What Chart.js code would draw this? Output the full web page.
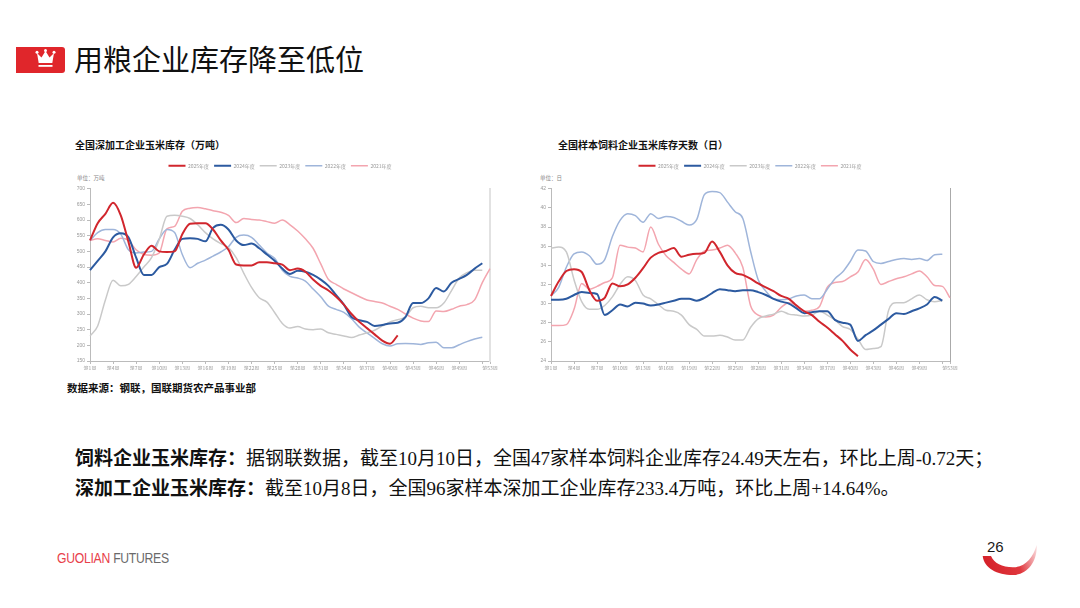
<!DOCTYPE html>
<html><head><meta charset="utf-8">
<script src="https://cdn.jsdelivr.net/npm/chart.js@4.4.1/dist/chart.umd.min.js"></script>
<style>
html,body{margin:0;padding:0;background:#fff;}
body{width:1080px;height:608px;position:relative;overflow:hidden;font-family:"Noto Sans CJK SC",sans-serif;}
.abs{position:absolute;white-space:nowrap;}
.ctitle{font-size:10px;font-weight:bold;color:#111;line-height:12px;}
.unit{font-size:5.5px;color:#888;line-height:7px;}
.body{font-size:19px;line-height:24px;color:#111;}
.body b{font-family:"Noto Sans CJK SC",sans-serif;font-weight:bold;}
.body span{font-family:"Liberation Serif","Noto Sans CJK SC",serif;font-weight:normal;}
</style></head><body>

<svg class="abs" style="left:16px;top:47px" width="50" height="26" viewBox="0 0 50 26">
  <path d="M0 0 H46 Q49 0 49 3 V23 Q49 26 46 26 H0 Z" fill="#e0262b"/>
  <path d="M21 6 L25.5 10.5 L29.5 4 L33.5 10.5 L38 6 L36.3 16 L22.7 16 Z" fill="#fff"/>
  <circle cx="21" cy="5.3" r="1.5" fill="#fff"/><circle cx="29.5" cy="3.5" r="1.5" fill="#fff"/><circle cx="38" cy="5.3" r="1.5" fill="#fff"/>
  <rect x="22.5" y="18" width="14" height="1.8" fill="#fff"/>
</svg>
<div class="abs" style="left:74px;top:40px;font-size:29px;line-height:36px;color:#111;">用粮企业库存降至低位</div>

<div class="abs ctitle" style="left:75px;top:139px;">全国深加工企业玉米库存（万吨）</div>
<div class="abs ctitle" style="left:558px;top:139px;">全国样本饲料企业玉米库存天数（日）</div>
<div class="abs unit" style="left:77px;top:175px;">单位：万吨</div>
<div class="abs unit" style="left:540px;top:175px;">单位：日</div>

<div class="abs" style="left:60px;top:155px;width:440px;height:215px;"><canvas id="c1" width="440" height="215"></canvas></div>
<div class="abs" style="left:540px;top:155px;width:420px;height:215px;"><canvas id="c2" width="420" height="215"></canvas></div>

<div class="abs" style="left:67px;top:381px;font-size:10.5px;font-weight:bold;color:#111;line-height:14px;">数据来源：钢联，国联期货农产品事业部</div>

<div class="abs body" style="left:75px;top:445px;"><b>饲料企业玉米库存：</b><span>据钢联数据，截至10月10日，全国47家样本饲料企业库存24.49天左右，环比上周-0.72天；</span></div>
<div class="abs body" style="left:75px;top:475px;"><b>深加工企业玉米库存：</b><span>截至10月8日，全国96家样本深加工企业库存233.4万吨，环比上周+14.64%。</span></div>

<div class="abs" style="left:57px;top:549px;font-size:14px;line-height:18px;font-family:'Liberation Sans',sans-serif;transform:scaleX(0.87);transform-origin:0 0;letter-spacing:-0.3px;"><span style="color:#e8414a">GUOLIAN</span><span style="color:#6a6a6a"> FUTURES</span></div>

<svg class="abs" style="left:980px;top:540px" width="62" height="40" viewBox="0 0 62 40">
  <defs><linearGradient id="g" x1="0" y1="0.2" x2="1" y2="0">
    <stop offset="0" stop-color="#d6232b"/><stop offset="0.55" stop-color="#e0383e"/><stop offset="0.85" stop-color="#f2a9ad"/><stop offset="1" stop-color="#fbe3e4"/>
  </linearGradient></defs>
  <path d="M2.7 16 L11 16 C14 23,22 27.3,33 27.3 C45 27.3,53 18,56.7 5 C57.5 22,47 35,33 35 C17 35,4 28,2.7 16 Z" fill="url(#g)"/>
</svg>
<div class="abs" style="left:987px;top:538px;font-size:15px;line-height:18px;color:#1a1a1a;font-family:'Liberation Sans',sans-serif;">26</div>

<script>
const weekLabels = ['第1周','第2周','第3周','第4周','第5周','第6周','第7周','第8周','第9周','第10周',
 '第11周','第12周','第13周','第14周','第15周','第16周','第17周','第18周','第19周','第20周',
 '第21周','第22周','第23周','第24周','第25周','第26周','第27周','第28周','第29周','第30周',
 '第31周','第32周','第33周','第34周','第35周','第36周','第37周','第38周','第39周','第40周',
 '第41周','第42周','第43周','第44周','第45周','第46周','第47周','第48周','第49周','第50周',
 '第51周','第52周','第53周'];
const yearNames = ['2025年度','2024年度','2023年度','2022年度','2021年度'];

// 全国深加工企业玉米库存（万吨）
const deep2025 = [535,590,620,655,615,530,448,490,518,500,498,500,555,588,590,590,570,535,505,458,455,455,465,465,462,458,440,445,435,410,390,375,355,330,300,275,255,235,215,205,232,
 null,null,null,null,null,null,null,null,null,null,null,null];
const deep2024 = [440,470,500,545,558,545,480,425,425,450,460,505,540,542,540,532,575,585,570,535,520,525,510,490,470,445,428,438,435,425,410,390,360,330,290,280,275,262,265,270,272,290,335,335,350,383,372,400,412,425,445,462,null];
const deep2023 = [230,262,345,408,390,395,420,450,480,538,612,615,612,605,585,560,540,525,512,480,430,385,352,338,305,270,255,260,252,250,252,240,235,230,225,233,240,248,262,275,282,290,320,325,320,320,335,375,415,432,440,440,null];
const deep2022 = [535,560,570,570,555,505,495,498,500,540,570,560,490,448,462,472,485,498,515,545,552,545,520,495,478,440,420,415,405,380,355,325,315,305,285,258,240,222,205,198,205,206,205,203,208,210,192,192,202,212,220,226,null];
const deep2021 = [535,540,535,530,542,535,505,490,488,495,572,580,628,638,640,636,630,625,615,592,605,602,600,595,590,600,585,565,540,510,460,410,395,380,368,356,345,340,335,325,315,300,287,278,276,310,308,315,325,330,345,400,445];

// 全国样本饲料企业玉米库存天数（日）
const feed2025 = [30.8,32.3,33.4,33.6,33.3,31.4,30.3,30.6,32.1,31.8,32.0,32.7,33.7,34.8,35.3,35.5,35.8,34.9,35.1,35.2,35.3,36.5,35.4,34.0,33.2,33.0,32.6,32.1,31.7,31.3,30.8,30.5,29.8,29.2,28.8,28.1,27.5,26.8,26.1,25.21,24.49,
 null,null,null,null,null,null,null,null,null,null,null,null];
const feed2024 = [30.4,30.4,30.5,30.9,31.2,31.1,31.0,28.8,29.3,29.9,29.7,30.1,30.0,29.8,29.9,30.1,30.3,30.5,30.5,30.3,30.6,31.1,31.5,31.4,31.3,31.4,31.4,31.2,30.9,30.5,30.2,30.0,29.5,29.0,29.1,29.2,29.2,28.3,28.0,27.8,26.1,26.7,27.2,27.8,28.4,29.0,28.9,29.2,29.5,29.9,30.7,30.3,null];
const feed2023 = [35.8,35.9,35.4,32.5,30.2,29.4,29.4,29.8,30.7,32.0,32.8,32.4,30.9,30.5,29.9,29.3,29.2,28.8,27.8,27.3,26.6,26.6,26.7,26.5,26.2,26.2,27.5,28.4,28.7,28.9,29.2,28.9,28.8,28.7,28.8,29.2,28.8,28.3,27.6,27.3,26.3,25.2,25.3,25.5,29.3,30.1,30.1,30.5,30.9,30.4,30.2,30.3,null];
const feed2022 = [30.8,31.7,33.8,35.2,35.4,35.0,34.1,34.6,37.0,38.7,39.4,39.2,38.5,39.4,38.9,39.1,39.0,38.6,38.2,38.8,41.4,41.7,41.6,40.6,39.6,38.9,35.5,32.5,31.3,30.5,30.4,30.5,30.8,30.9,30.5,30.5,31.5,32.6,33.3,34.4,35.6,35.5,34.4,34.2,34.4,34.6,34.7,34.6,34.7,34.5,35.1,35.15,null];
const feed2021 = [27.7,27.7,27.8,29.4,32.1,31.5,31.8,32.2,32.7,36.1,35.9,35.8,35.4,38.0,36.2,35.0,34.3,33.6,33.1,34.6,35.5,35.6,35.8,36.1,35.3,33.8,29.8,28.8,28.6,28.8,29.6,30.1,29.8,29.2,29.3,29.7,31.7,32.2,32.3,32.8,33.3,34.6,33.6,32.0,32.3,32.6,32.8,33.1,33.4,32.8,31.9,31.8,30.6];

const deepTicks = {min:150, max:700, step:50};
const feedTicks = {min:24, max:42, step:2};

const colors = ['#d1262d','#2c5aa0','#c9c9c9','#9fb5da','#f3a5af'];
const widths = [2,2,1.5,1.5,1.5];

function build(id, series, tk, yW, y2Color, y2Width){
  const datasets = series.map((d,i)=>({
    label: yearNames[i], data: d, borderColor: colors[i], backgroundColor: colors[i],
    borderWidth: widths[i], pointRadius: 0, pointHoverRadius: 0, pointStyle: 'line',
    cubicInterpolationMode: 'monotone', spanGaps: false
  }));
  return new Chart(document.getElementById(id), {
    type: 'line',
    data: {labels: weekLabels, datasets},
    options: {
      responsive: false, animation: false,
      layout: {padding: {top: 3.25, left: 0, right: 0, bottom: 0}},
      plugins: {
        tooltip: {enabled: false},
        legend: {position: 'top', align: 'center',
          labels: {usePointStyle: true, pointStyle: 'line', pointStyleWidth: 17, boxHeight: 5,
                   font: {size: 5, family: 'Noto Sans CJK SC'}, color: '#999', padding: 5}}
      },
      scales: {
        x: {
          grid: {drawOnChartArea: false, tickLength: 3,
                 color: (c)=> (c.index%3===0 || c.index===52) ? '#bbb' : 'rgba(0,0,0,0)'},
          border: {color: '#bbb'},
          ticks: {autoSkip: false, maxRotation: 0, minRotation: 0, padding: 1,
                  font: {size: 5, family: 'Noto Sans CJK SC'}, color: '#999',
                  callback: (v,i)=> ((i%3===0 && i!==51) || i===52) ? weekLabels[i] : ''},
          afterFit: (s)=>{ s.height = 9; }
        },
        xTopGap: {
          type: 'category', position: 'top',
          ticks: {display: false}, grid: {display: false, drawTicks: false}, border: {display: false},
          afterFit: (s)=>{ s.height = 10.5; }
        },
        y: {
          min: tk.min, max: tk.max,
          ticks: {stepSize: tk.step, font: {size: 5}, color: '#999', padding: 2},
          grid: {drawOnChartArea: false, tickLength: 3, color: '#bbb'},
          border: {color: '#bbb'},
          afterFit: (s)=>{ s.width = yW; }
        },
        y2: {
          type: 'linear', position: 'right',
          ticks: {display: false},
          grid: {drawOnChartArea: false, drawTicks: false},
          border: {color: y2Color, width: y2Width},
          afterFit: (s)=>{ s.width = 10; }
        }
      }
    }
  });
}

build('c1', [deep2025, deep2024, deep2023, deep2022, deep2021], deepTicks, 30, '#e2e2e2', 2);
build('c2', [feed2025, feed2024, feed2023, feed2022, feed2021], feedTicks, 11, '#aaaaaa', 1);
</script>
</body></html>
